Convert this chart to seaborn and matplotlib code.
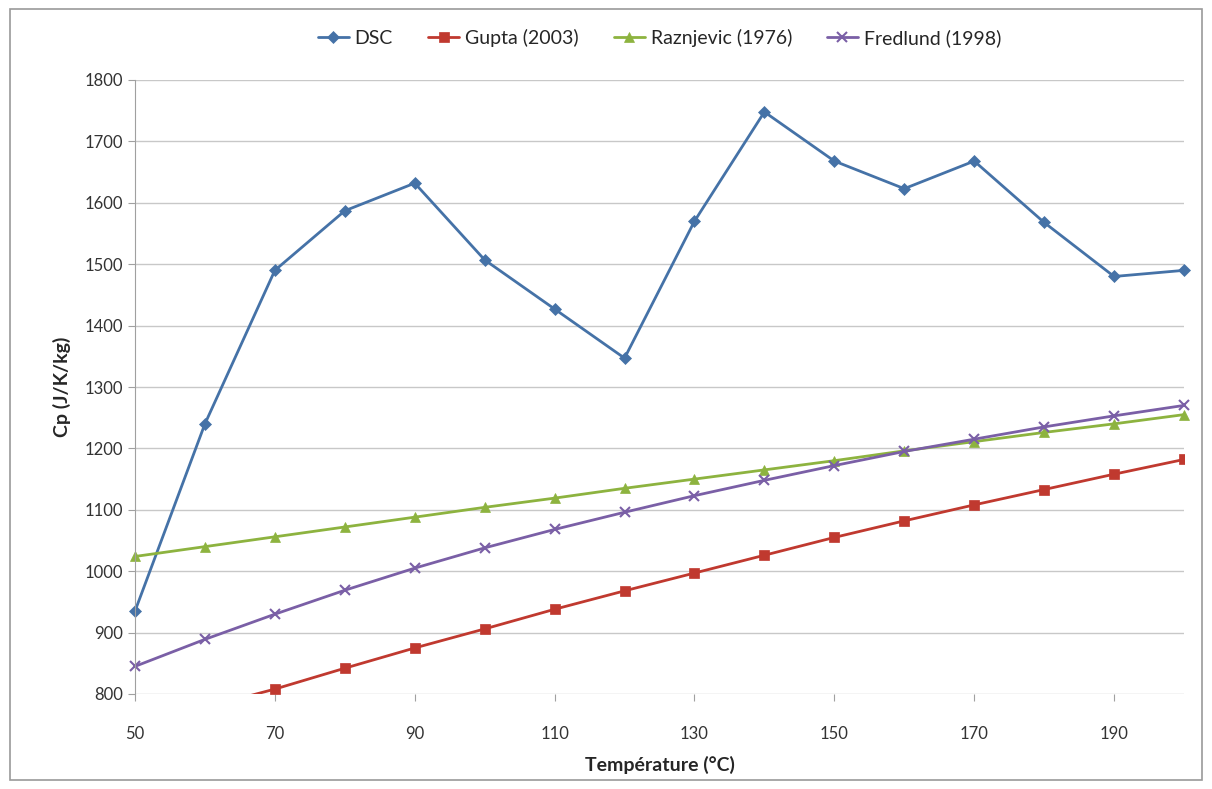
import pandas as pd
import matplotlib.pyplot as plt
import seaborn as sns
from matplotlib.patches import Rectangle

# === DONNÉES ===
temperature = [50, 60, 70, 80, 90, 100, 110, 120, 130, 140, 150, 160, 170, 180, 190, 200]
dsc = [935, 1240, 1490, 1587, 1632, 1507, 1427, 1347, 1570, 1748, 1668, 1623, 1668, 1568, 1480, 1490]
gupta = [744, 778, 808, 842, 875, 906, 938, 968, 997, 1026, 1055, 1082, 1108, 1133, 1158, 1182]
raznjevic = [1024, 1040, 1056, 1072, 1088, 1104, 1119, 1135, 1150, 1165, 1180, 1196, 1211, 1226, 1240, 1255]
fredlund = [845, 889, 930, 969, 1005, 1038, 1068, 1096, 1123, 1148, 1172, 1195, 1215, 1235, 1253, 1270]

series = {
    "DSC": (dsc, "#4572A7", "D", 6),
    "Gupta (2003)": (gupta, "#C0392F", "s", 7),
    "Raznjevic (1976)": (raznjevic, "#8DB33F", "^", 7),
    "Fredlund (1998)": (fredlund, "#7A5FA6", "x", 7),
}

sns.set_style("white")
plt.rcParams['font.family'] = ['Lato', 'DejaVu Sans']

fig = plt.figure(figsize=(12.12, 7.89), dpi=100)
ax = fig.add_axes([135 / 1212, 1 - 694 / 789, (1184 - 135) / 1212, (694 - 80) / 789])

for name, (vals, col, mk, ms) in series.items():
    df = pd.DataFrame({"T": temperature, "Cp": vals})
    sns.lineplot(data=df, x="T", y="Cp", ax=ax, color=col, marker=mk, markersize=ms,
                 markeredgecolor=col, markeredgewidth=1.5 if mk == "x" else 0.5,
                 linewidth=2, label=name)
    # Excel montre les marqueurs entiers au bord, sauf Gupta qui sort de l'axe
    if name != "Gupta (2003)":
        ax.lines[-1].set_clip_on(False)

ax.set_xlim(50, 200)
ax.set_ylim(800, 1800)
ax.set_xticks(range(50, 200, 20))
ax.set_yticks(range(800, 1801, 100))
ax.yaxis.grid(True, color="#C8C8C8", linewidth=1)
ax.xaxis.grid(False)
for s in ["top", "right", "bottom"]:
    ax.spines[s].set_visible(False)
ax.spines["left"].set_color("#A0A0A0")
ax.tick_params(axis="both", labelsize=12, colors="#333333", length=5, color="#A0A0A0",
               direction="out", left=True, bottom=True)
ax.tick_params(axis="x", pad=18)
ax.set_xlabel("Température (°C)", fontsize=14, fontweight="bold", labelpad=10)
ax.set_ylabel("Cp (J/K/kg)", fontsize=14, fontweight="bold", labelpad=10)

ax.legend(loc="lower center", bbox_to_anchor=(0.5, 1.025), ncol=4, frameon=False,
          fontsize=14, handlelength=1.6, handletextpad=0.3, columnspacing=1.8)

fig.patches.append(Rectangle((0.008, 0.012), 0.984, 0.976, transform=fig.transFigure,
                             fill=False, edgecolor="#9A9A9A", linewidth=1.2))

fig.savefig("out.png", dpi=100)
